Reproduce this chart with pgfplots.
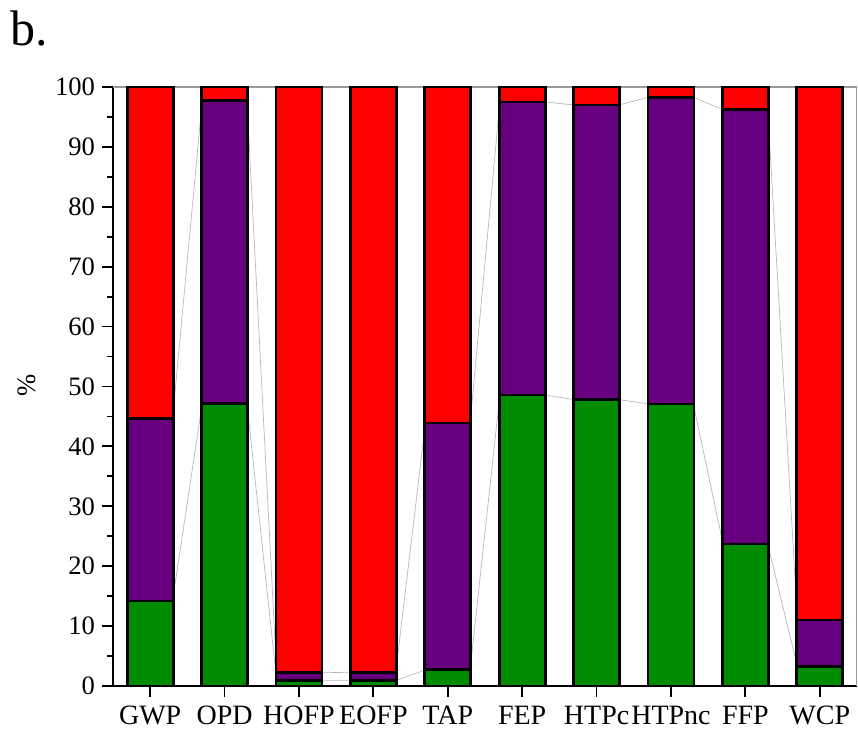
\documentclass[border=0pt]{standalone}
\usepackage{pgfplots}
\pgfplotsset{compat=1.18}
\usepackage{fontspec}
\setmainfont{Liberation Serif}
\definecolor{cgreen}{RGB}{0,140,0}
\definecolor{cpurple}{RGB}{102,0,128}
\definecolor{cred}{RGB}{255,0,0}
\pgfplotsset{common/.style={width=372pt,height=299.5pt,scale only axis,
  xmin=-0.5,xmax=9.5,ymin=0,ymax=100,at={(0,0)},anchor=south west}}
\begin{document}
\begin{tikzpicture}
\useasboundingbox (-56.5pt,-23.5pt) rectangle (372.5pt,343pt);
% connecting lines (behind bars)
\begin{axis}[common,hide axis,clip=false]
\addplot[gray!55,line width=0.35pt] coordinates {(0.3,14.2)(0.7,47.2)(1.3,47.2)(1.7,0.9)(2.3,0.9)(2.7,0.9)(3.3,0.9)(3.7,2.7)(4.3,2.7)(4.7,48.6)(5.3,48.6)(5.7,47.8)(6.3,47.8)(6.7,47.1)(7.3,47.1)(7.7,23.7)(8.3,23.7)(8.7,3.2)};
\addplot[gray!55,line width=0.35pt] coordinates {(0.3,44.6)(0.7,97.8)(1.3,97.8)(1.7,2.2)(2.3,2.2)(2.7,2.3)(3.3,2.3)(3.7,43.9)(4.3,43.9)(4.7,97.5)(5.3,97.5)(5.7,97.0)(6.3,97.0)(6.7,98.3)(7.3,98.3)(7.7,96.2)(8.3,96.2)(8.7,11.0)};
\end{axis}
\begin{axis}[common,
  ybar stacked, bar width=23pt,
  axis x line*=bottom, axis y line*=left,
  axis line style={-,line width=0.9pt},
  xtick={0,...,9},
  xticklabels={GWP,OPD,HOFP,EOFP,TAP,FEP,HTPc,HTPnc,FFP,WCP},
  ytick={0,10,...,100}, minor y tick num=1,
  tick align=outside, major tick length=5.5pt, minor tick length=3pt,
  tick style={black,line width=0.9pt},
  yticklabel style={font=\fontsize{13.3}{16}\selectfont},
  xticklabel style={font=\fontsize{14}{16}\selectfont,yshift=-1pt},
  /pgf/number format/assume math mode=true,
  every axis plot/.append style={draw=black,line width=1.35pt},
]
\addplot[fill=cgreen] coordinates {(0,14.2)(1,47.2)(2,0.9)(3,0.9)(4,2.7)(5,48.6)(6,47.8)(7,47.1)(8,23.7)(9,3.2)};
\addplot[fill=cpurple] coordinates {(0,30.4)(1,50.6)(2,1.3)(3,1.4)(4,41.2)(5,48.9)(6,49.2)(7,51.2)(8,72.5)(9,7.8)};
\addplot[fill=cred] coordinates {(0,55.4)(1,2.2)(2,97.8)(3,97.7)(4,56.1)(5,2.5)(6,3.0)(7,1.7)(8,3.8)(9,89.0)};
\draw[gray!80,line width=0.7pt] (rel axis cs:0,1) -- (rel axis cs:1,1) -- (rel axis cs:1,0);
\end{axis}
\node[rotate=90,font=\fontsize{13.3}{16}\selectfont] at (-43pt,150.5pt) {\%};
\node[anchor=base west,font=\fontsize{25}{30}\selectfont,inner sep=0pt] at (-51.5pt,320pt) {b.};
\end{tikzpicture}
\end{document}
